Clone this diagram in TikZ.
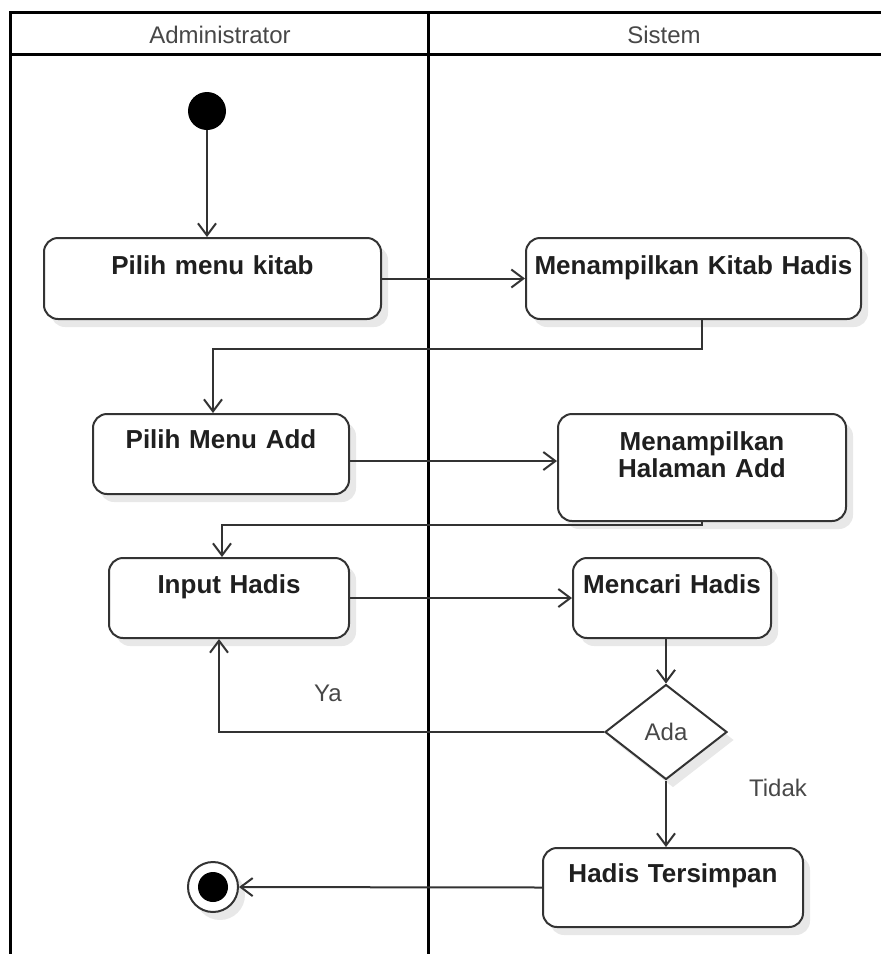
\documentclass[tikz,border=0pt]{standalone}
\usepackage{fontspec}
\setmainfont{Liberation Sans}
\usetikzlibrary{arrows.meta,shapes.geometric,shadows}
\definecolor{ink}{HTML}{333333}
\definecolor{soft}{HTML}{474747}
\begin{document}
\begin{tikzpicture}[x=1pt,y=-1pt,
  lane/.style={line width=3pt, black},
  softshadow/.style={drop shadow={shadow xshift=7pt, shadow yshift=-8pt, fill=black, opacity=0.09}},
  % action box: #1 width, #2 baseline offset from top, #3 rest of height
  action/.style n args={3}{draw=ink, line width=2pt, rounded corners=14pt, fill=white,
    softshadow, anchor=north west, inner xsep=0pt, inner ysep=0pt, align=center,
    text width=#1pt, text height=#2pt, text depth=#3pt, text=black!88,
    font=\bfseries\fontsize{26}{27}\selectfont},
  decision/.style={diamond, draw=ink, line width=2pt, fill=white, softshadow,
    minimum width=122pt, minimum height=95pt, inner sep=0pt, text=soft,
    font=\fontsize{24}{26}\selectfont},
  header/.style={text=soft, font=\fontsize{24}{26}\selectfont},
  note/.style={text=soft, font=\fontsize{24}{26}\selectfont},
  startnode/.style={circle, fill=black, minimum size=38pt, inner sep=0pt},
  endnode/.style={circle, draw=ink, line width=2pt, fill=white, softshadow,
    minimum size=50pt, inner sep=0pt},
  flow/.style={draw=ink, line width=2pt, -{Straight Barb[length=12pt,width=18pt]}},
  plain/.style={draw=ink, line width=2pt}
]
\useasboundingbox (0,0) rectangle (881,954);

% swimlane frame
\draw[lane] (10,954) -- (10,12) -- (881,12);
\draw[lane] (10,54) -- (881,54);
\draw[lane] (428,12) -- (428,954);
\node[header] (hA) at (220,35) {Administrator};
\node[header] (hS) at (664,35) {Sistem};

% nodes
\node[startnode] (init) at (207,111) {};
\node[action={337}{36}{45}] (a1) at (43,237) {Pilih menu kitab};
\node[action={335}{36}{45}] (b1) at (525,237) {Menampilkan Kitab Hadis};
\node[action={256}{34}{46}] (a2) at (92,413) {Pilih Menu Add};
\node[action={288}{36}{71}] (b2) at (557,413) {Menampilkan\\Halaman Add};
\node[action={240}{35}{45}] (a3) at (108,557) {Input Hadis};
\node[action={198}{35}{45}] (b3) at (572,557) {Mencari Hadis};
\node[decision] (d) at (666,732) {Ada};
\node[action={260}{34}{45}] (ht) at (542,847) {Hadis Tersimpan};
\node[endnode] (fin) at (213,887) {};
\fill[black] (fin.center) circle (15pt);

\coordinate (j1) at (213,349);
\coordinate (j2) at (222,525);

% connectors
\draw[flow] (init) -- (init |- a1.north);
\draw[flow] (a1.east) -- (b1.west);
\draw[flow] ([xshift=8pt]b1.south) |- (j1) -- (j1 |- a2.north);
\draw[flow] ([yshift=-7pt]a2.east) -- ([yshift=-7pt]a2.east -| b2.west);
\draw[flow] (b2.south) |- (j2) -- (j2 |- a3.north);
\draw[flow] (a3.east) -- (b3.west);
\draw[flow] (d.north |- b3.south) -- (d.north);
\draw[flow] (d.west) -| ([xshift=-10pt]a3.south);
\draw[flow] (d.south) -- (d.south |- ht.north);
\draw[flow] (ht.west) -- (fin);

\node[note] (ya) at (328,693) {Ya};
\node[note] (tidak) at (778,788) {Tidak};
\end{tikzpicture}
\end{document}
